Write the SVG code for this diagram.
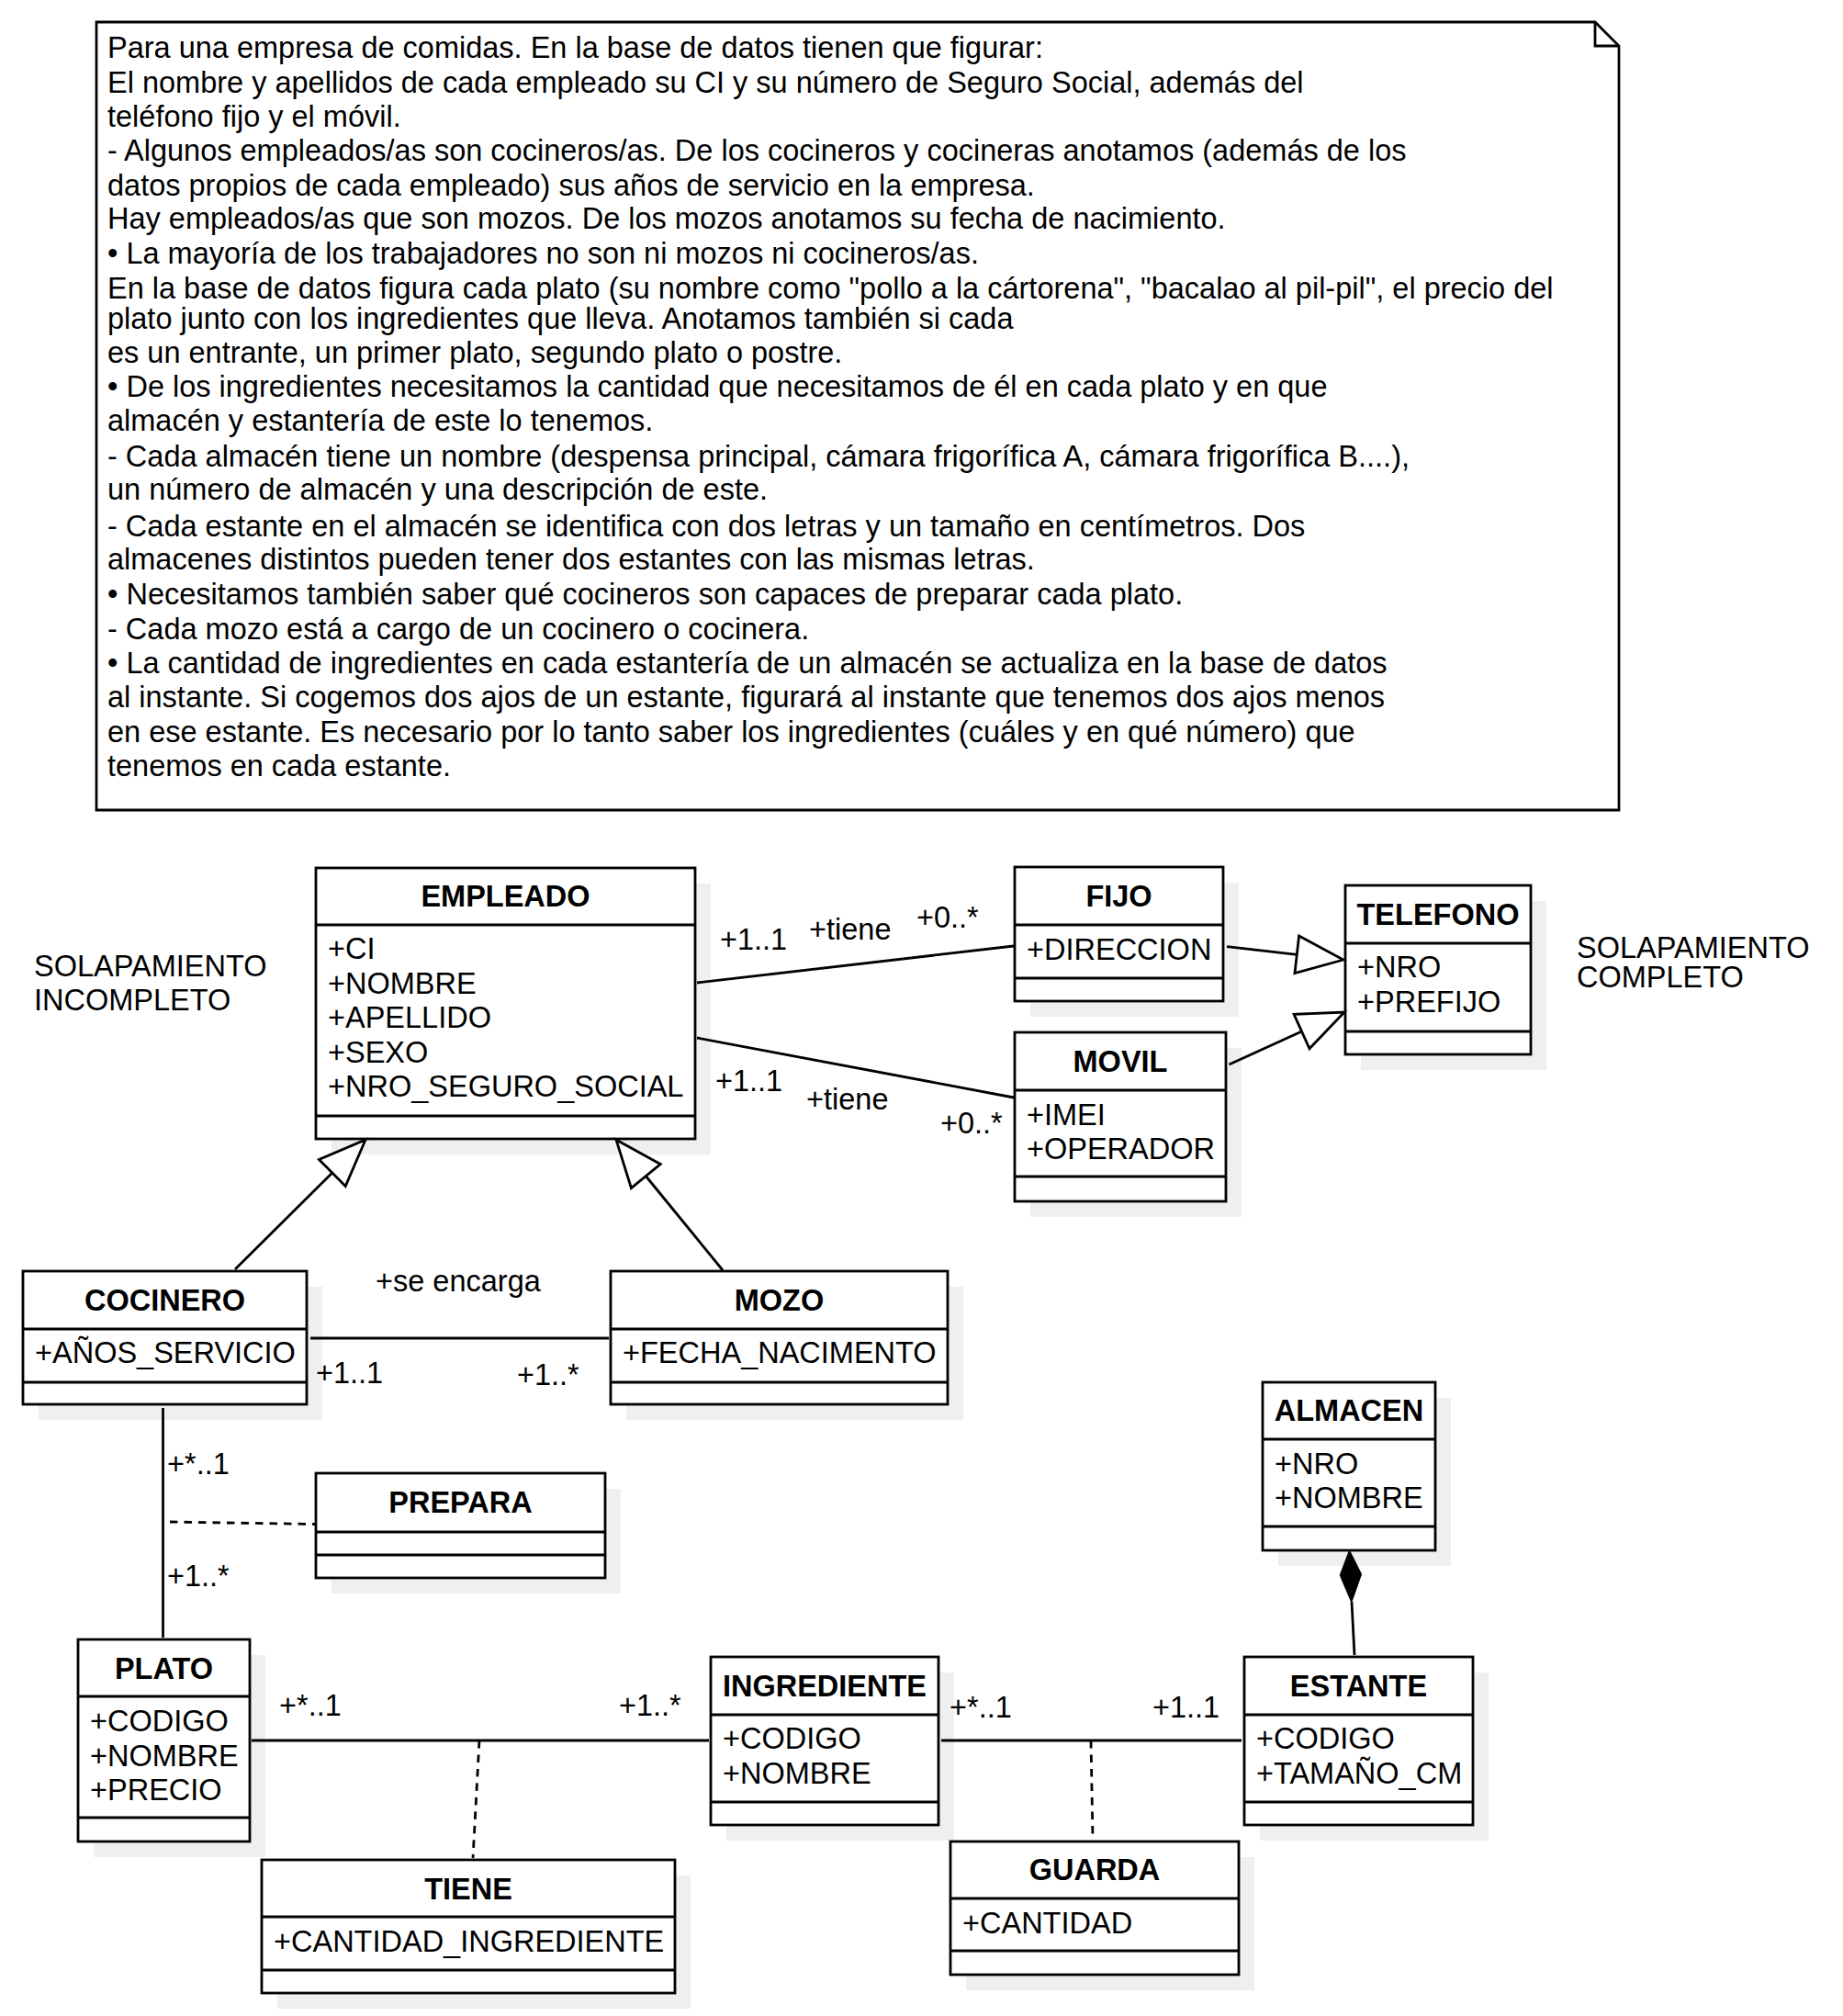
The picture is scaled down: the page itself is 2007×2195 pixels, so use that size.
<svg xmlns="http://www.w3.org/2000/svg" width="2007" height="2195" viewBox="0 0 2007 2195">
<style>
.bg{fill:#fff}
.box{fill:#fff;stroke:#000;stroke-width:2.8}
.sh{fill:#efefef}
.dv{stroke:#000;stroke-width:2.8}
.t{font-family:"Liberation Sans",Arial,sans-serif;font-size:32.5px;fill:#000}
.b{font-weight:bold;text-anchor:middle}
.c{stroke:#000;stroke-width:2.8;fill:none}
.d{stroke-dasharray:8.5 7}
.tri{fill:#fff;stroke:#000;stroke-width:2.8;stroke-linejoin:miter}
.dia{fill:#000;stroke:#000;stroke-width:1.5}
</style>
<rect class="bg" x="0" y="0" width="2007" height="2195"/>

<g id="note">
<path class="box" d="M105,24 H1737 L1763,50 V882 H105 Z"/>
<path class="c" d="M1737,24 V50 H1763"/>
<text class="t" x="117">
<tspan x="117" y="63">Para una empresa de comidas. En la base de datos tienen que figurar:</tspan>
<tspan x="117" y="100.6">El nombre y apellidos de cada empleado su CI y su número de Seguro Social, además del</tspan>
<tspan x="117" y="138.4">teléfono fijo y el móvil.</tspan>
<tspan x="117" y="174.8">- Algunos empleados/as son cocineros/as. De los cocineros y cocineras anotamos (además de los</tspan>
<tspan x="117" y="212.6">datos propios de cada empleado) sus años de servicio en la empresa.</tspan>
<tspan x="117" y="249">Hay empleados/as que son mozos. De los mozos anotamos su fecha de nacimiento.</tspan>
<tspan x="117" y="286.8">• La mayoría de los trabajadores no son ni mozos ni cocineros/as.</tspan>
<tspan x="117" y="324.6">En la base de datos figura cada plato (su nombre como "pollo a la cártorena", "bacalao al pil-pil", el precio del</tspan>
<tspan x="117" y="358.2">plato junto con los ingredientes que lleva. Anotamos también si cada</tspan>
<tspan x="117" y="394.6">es un entrante, un primer plato, segundo plato o postre.</tspan>
<tspan x="117" y="432.4">• De los ingredientes necesitamos la cantidad que necesitamos de él en cada plato y en que</tspan>
<tspan x="117" y="468.8">almacén y estantería de este lo tenemos.</tspan>
<tspan x="117" y="508">- Cada almacén tiene un nombre (despensa principal, cámara frigorífica A, cámara frigorífica B....),</tspan>
<tspan x="117" y="544.4">un número de almacén y una descripción de este.</tspan>
<tspan x="117" y="583.6">- Cada estante en el almacén se identifica con dos letras y un tamaño en centímetros. Dos</tspan>
<tspan x="117" y="620">almacenes distintos pueden tener dos estantes con las mismas letras.</tspan>
<tspan x="117" y="657.8">• Necesitamos también saber qué cocineros son capaces de preparar cada plato.</tspan>
<tspan x="117" y="695.6">- Cada mozo está a cargo de un cocinero o cocinera.</tspan>
<tspan x="117" y="733.4">• La cantidad de ingredientes en cada estantería de un almacén se actualiza en la base de datos</tspan>
<tspan x="117" y="769.8">al instante. Si cogemos dos ajos de un estante, figurará al instante que tenemos dos ajos menos</tspan>
<tspan x="117" y="807.6">en ese estante. Es necesario por lo tanto saber los ingredientes (cuáles y en qué número) que</tspan>
<tspan x="117" y="845.4">tenemos en cada estante.</tspan>
</text>
</g>

<g id="labels">
<text class="t" x="37" y="1063">SOLAPAMIENTO</text>
<text class="t" x="37" y="1100">INCOMPLETO</text>
<text class="t" x="1717" y="1043">SOLAPAMIENTO</text>
<text class="t" x="1717" y="1075">COMPLETO</text>
</g>

<g id="EMPLEADO">
<rect class="sh" x="361" y="962" width="413" height="295"/>
<rect class="box" x="344" y="945" width="413" height="295"/>
<line class="dv" x1="344" y1="1007" x2="757" y2="1007"/>
<line class="dv" x1="344" y1="1215" x2="757" y2="1215"/>
<text class="t b" x="550.5" y="987">EMPLEADO</text>
<text class="t" x="357" y="1044">+CI</text>
<text class="t" x="357" y="1081.5">+NOMBRE</text>
<text class="t" x="357" y="1119">+APELLIDO</text>
<text class="t" x="357" y="1156.5">+SEXO</text>
<text class="t" x="357" y="1194">+NRO_SEGURO_SOCIAL</text>
</g>

<g id="FIJO">
<rect class="sh" x="1122" y="961" width="227" height="146"/>
<rect class="box" x="1105" y="944" width="227" height="146"/>
<line class="dv" x1="1105" y1="1007" x2="1332" y2="1007"/>
<line class="dv" x1="1105" y1="1065" x2="1332" y2="1065"/>
<text class="t b" x="1218.5" y="987">FIJO</text>
<text class="t" x="1118" y="1045">+DIRECCION</text>
</g>

<g id="TELEFONO">
<rect class="sh" x="1482" y="981" width="202" height="184"/>
<rect class="box" x="1465" y="964" width="202" height="184"/>
<line class="dv" x1="1465" y1="1027" x2="1667" y2="1027"/>
<line class="dv" x1="1465" y1="1123" x2="1667" y2="1123"/>
<text class="t b" x="1566" y="1007">TELEFONO</text>
<text class="t" x="1478" y="1064">+NRO</text>
<text class="t" x="1478" y="1102">+PREFIJO</text>
</g>

<g id="MOVIL">
<rect class="sh" x="1122" y="1141" width="230" height="184"/>
<rect class="box" x="1105" y="1124" width="230" height="184"/>
<line class="dv" x1="1105" y1="1187" x2="1335" y2="1187"/>
<line class="dv" x1="1105" y1="1281" x2="1335" y2="1281"/>
<text class="t b" x="1220" y="1167">MOVIL</text>
<text class="t" x="1118" y="1225">+IMEI</text>
<text class="t" x="1118" y="1262">+OPERADOR</text>
</g>

<g id="COCINERO">
<rect class="sh" x="42" y="1401" width="309" height="145"/>
<rect class="box" x="25" y="1384" width="309" height="145"/>
<line class="dv" x1="25" y1="1447" x2="334" y2="1447"/>
<line class="dv" x1="25" y1="1505" x2="334" y2="1505"/>
<text class="t b" x="179.5" y="1427">COCINERO</text>
<text class="t" x="38" y="1484">+AÑOS_SERVICIO</text>
</g>

<g id="MOZO">
<rect class="sh" x="682" y="1401" width="367" height="145"/>
<rect class="box" x="665" y="1384" width="367" height="145"/>
<line class="dv" x1="665" y1="1447" x2="1032" y2="1447"/>
<line class="dv" x1="665" y1="1505" x2="1032" y2="1505"/>
<text class="t b" x="848.5" y="1427">MOZO</text>
<text class="t" x="678" y="1484">+FECHA_NACIMENTO</text>
</g>

<g id="PREPARA">
<rect class="sh" x="361" y="1621" width="315" height="114"/>
<rect class="box" x="344" y="1604" width="315" height="114"/>
<line class="dv" x1="344" y1="1668" x2="659" y2="1668"/>
<line class="dv" x1="344" y1="1693" x2="659" y2="1693"/>
<text class="t b" x="501.5" y="1647">PREPARA</text>
</g>

<g id="ALMACEN">
<rect class="sh" x="1392" y="1522" width="188" height="183"/>
<rect class="box" x="1375" y="1505" width="188" height="183"/>
<line class="dv" x1="1375" y1="1567" x2="1563" y2="1567"/>
<line class="dv" x1="1375" y1="1662" x2="1563" y2="1662"/>
<text class="t b" x="1469" y="1547">ALMACEN</text>
<text class="t" x="1388" y="1604.5">+NRO</text>
<text class="t" x="1388" y="1642">+NOMBRE</text>
</g>

<g id="PLATO">
<rect class="sh" x="102" y="1802" width="187" height="220"/>
<rect class="box" x="85" y="1785" width="187" height="220"/>
<line class="dv" x1="85" y1="1847" x2="272" y2="1847"/>
<line class="dv" x1="85" y1="1979" x2="272" y2="1979"/>
<text class="t b" x="178.5" y="1828">PLATO</text>
<text class="t" x="98" y="1885">+CODIGO</text>
<text class="t" x="98" y="1922.5">+NOMBRE</text>
<text class="t" x="98" y="1960">+PRECIO</text>
</g>

<g id="INGREDIENTE">
<rect class="sh" x="791" y="1821" width="248" height="183"/>
<rect class="box" x="774" y="1804" width="248" height="183"/>
<line class="dv" x1="774" y1="1867" x2="1022" y2="1867"/>
<line class="dv" x1="774" y1="1962" x2="1022" y2="1962"/>
<text class="t b" x="898" y="1847">INGREDIENTE</text>
<text class="t" x="787" y="1904">+CODIGO</text>
<text class="t" x="787" y="1941.5">+NOMBRE</text>
</g>

<g id="ESTANTE">
<rect class="sh" x="1372" y="1821" width="249" height="183"/>
<rect class="box" x="1355" y="1804" width="249" height="183"/>
<line class="dv" x1="1355" y1="1867" x2="1604" y2="1867"/>
<line class="dv" x1="1355" y1="1962" x2="1604" y2="1962"/>
<text class="t b" x="1479.5" y="1847">ESTANTE</text>
<text class="t" x="1368" y="1904">+CODIGO</text>
<text class="t" x="1368" y="1941.5">+TAMAÑO_CM</text>
</g>

<g id="TIENE">
<rect class="sh" x="302" y="2042" width="450" height="145"/>
<rect class="box" x="285" y="2025" width="450" height="145"/>
<line class="dv" x1="285" y1="2087" x2="735" y2="2087"/>
<line class="dv" x1="285" y1="2145" x2="735" y2="2145"/>
<text class="t b" x="510" y="2068">TIENE</text>
<text class="t" x="298" y="2125">+CANTIDAD_INGREDIENTE</text>
</g>

<g id="GUARDA">
<rect class="sh" x="1052" y="2022" width="314" height="145"/>
<rect class="box" x="1035" y="2005" width="314" height="145"/>
<line class="dv" x1="1035" y1="2067" x2="1349" y2="2067"/>
<line class="dv" x1="1035" y1="2124" x2="1349" y2="2124"/>
<text class="t b" x="1192" y="2047">GUARDA</text>
<text class="t" x="1048" y="2105">+CANTIDAD</text>
</g>

<g id="connectors">
<line class="c" x1="759" y1="1070" x2="1104" y2="1030"/>
<line class="c" x1="759" y1="1130" x2="1104" y2="1195"/>
<line class="c" x1="1336" y1="1030.6" x2="1412.3" y2="1039.3"/>
<polygon class="tri" points="1463,1045 1410,1059.6 1414.6,1018.9"/>
<line class="c" x1="1338.5" y1="1159" x2="1417.5" y2="1123"/>
<polygon class="tri" points="1464,1102 1426,1141.8 1409.1,1104.4"/>
<line class="c" x1="256" y1="1382" x2="361.8" y2="1276.9"/>
<polygon class="tri" points="398,1241 376.2,1291.5 347.4,1262.4"/>
<line class="c" x1="787" y1="1383" x2="703.3" y2="1280.5"/>
<polygon class="tri" points="671,1241 719.2,1267.5 687.4,1293.5"/>
<line class="c" x1="338" y1="1457" x2="663" y2="1457"/>
<line class="c" x1="177.5" y1="1533" x2="177.5" y2="1783"/>
<line class="c d" x1="185" y1="1657" x2="343" y2="1659.5"/>
<line class="c" x1="274" y1="1895" x2="772" y2="1895"/>
<line class="c d" x1="522" y1="1895" x2="515" y2="2023"/>
<line class="c" x1="1025" y1="1895" x2="1352" y2="1895"/>
<line class="c d" x1="1188" y1="1895" x2="1190" y2="2003"/>
<line class="c" x1="1472" y1="1744" x2="1475" y2="1802"/>
<polygon class="dia" points="1469.5,1688.5 1459.5,1715 1471.7,1744 1482.3,1714"/>
<text class="t" x="784" y="1034">+1..1</text>
<text class="t" x="881" y="1023">+tiene</text>
<text class="t" x="998" y="1010">+0..*</text>
<text class="t" x="779" y="1188">+1..1</text>
<text class="t" x="878" y="1208">+tiene</text>
<text class="t" x="1024" y="1234">+0..*</text>
<text class="t" x="409" y="1406">+se encarga</text>
<text class="t" x="344" y="1506">+1..1</text>
<text class="t" x="563" y="1508">+1..*</text>
<text class="t" x="182" y="1605">+*..1</text>
<text class="t" x="182" y="1727">+1..*</text>
<text class="t" x="304" y="1868">+*..1</text>
<text class="t" x="674" y="1868">+1..*</text>
<text class="t" x="1034" y="1870">+*..1</text>
<text class="t" x="1255" y="1870">+1..1</text>
</g>
</svg>
